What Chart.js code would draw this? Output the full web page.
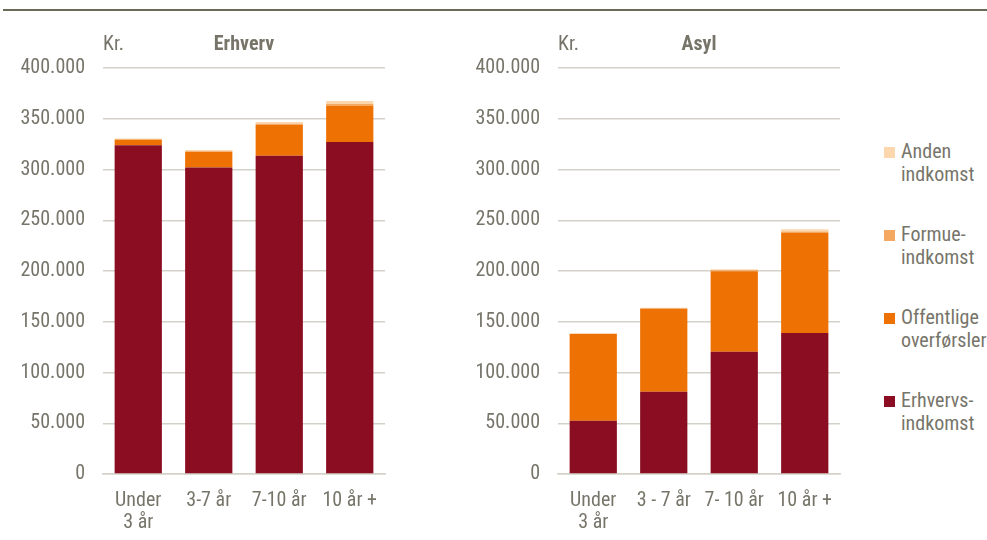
<!DOCTYPE html>
<html>
<head>
<meta charset="utf-8">
<script src="https://cdn.jsdelivr.net/npm/chart.js@4.4.1/dist/chart.umd.min.js"></script>
<style>
  body { margin: 0; background: #fff; width: 987px; height: 540px; overflow: hidden; position: relative;
         font-family: "Liberation Sans Narrow", "Arial Narrow", "Roboto Condensed", sans-serif; }
  .topline { position: absolute; left: 3px; right: 0; top: 9px; height: 2px; background: #6b6a58; }
  .panel { position: absolute; top: 0; width: 400px; height: 540px; }
  #legend { position: absolute; left: 884px; top: 140px; color: #77756a; font-size: 20px; line-height: 23px; }
  #legend .item { position: relative; padding-left: 17px; height: 83px; white-space: nowrap; }
  #legend .box { position: absolute; left: 0; top: 7px; width: 11px; height: 11px; }
</style>
</head>
<body>
<div class="topline"></div>
<div class="panel" style="left:0"><canvas id="c1" width="400" height="540"></canvas></div>
<div class="panel" style="left:455px"><canvas id="c2" width="400" height="540"></canvas></div>
<div id="legend"></div>
<script>
const erhvervLabels = [["Under", "3 år"], "3-7 år", "7-10 år", "10 år +"]
const asylLabels = [["Under", "3 år"], "3 - 7 år", "7- 10 år", "10 år +"]

const seriesNames = ["Erhvervs-indkomst", "Offentlige overførsler", "Formue-indkomst", "Anden indkomst"]
const legendLines = [["Erhvervs-", "indkomst"], ["Offentlige", "overførsler"], ["Formue-", "indkomst"], ["Anden", "indkomst"]]
const seriesColors = ["#8a0d22", "#ee7203", "#f5a862", "#fcd7ad"]

// Erhverv
const erhvervErhverv = [324000, 302000, 313500, 327000]
const erhvervOffentlige = [5300, 15400, 30600, 35500]
const erhvervFormue = [500, 700, 1000, 2000]
const erhvervAnden = [800, 1000, 1600, 3000]

// Asyl
const asylErhverv = [52500, 81000, 120500, 139000]
const asylOffentlige = [85500, 81800, 79200, 98500]
const asylFormue = [300, 500, 1000, 1500]
const asylAnden = [300, 400, 1000, 2200]

const yTicks = [0, 50000, 100000, 150000, 200000, 250000, 300000, 350000, 400000]

const textColor = "#77756a"
const gridColor = "#d3d1c8"
const fontFamily = '"Liberation Sans Narrow", "Arial Narrow", "Roboto Condensed", sans-serif'

function fmt(v) {
  return String(v).replace(/\B(?=(\d{3})+(?!\d))/g, ".")
}

const headerPlugin = {
  id: "header",
  afterDraw(chart, args, opts) {
    const { ctx, chartArea } = chart
    ctx.save()
    ctx.fillStyle = textColor
    ctx.textBaseline = "middle"
    ctx.font = "20px " + fontFamily
    ctx.textAlign = "left"
    ctx.fillText("Kr.", chartArea.left, 45)
    ctx.font = "bold 20px " + fontFamily
    ctx.textAlign = "center"
    ctx.fillText(opts.title, (chartArea.left + chartArea.right) / 2, 45)
    ctx.restore()
  }
}

function makeChart(id, title, labels, values) {
  const ctx = document.getElementById(id).getContext("2d")
  return new Chart(ctx, {
    type: "bar",
    data: {
      labels: labels,
      datasets: values.map((data, i) => ({
        label: seriesNames[i],
        data: data,
        backgroundColor: seriesColors[i],
        borderWidth: 0,
        barPercentage: 0.67,
        categoryPercentage: 1
      }))
    },
    options: {
      responsive: false,
      animation: false,
      layout: { padding: { top: 68, right: 15, left: 0, bottom: 0 } },
      plugins: {
        legend: { display: false },
        tooltip: { enabled: false },
        header: { title: title }
      },
      scales: {
        x: {
          stacked: true,
          grid: { display: false, drawTicks: false },
          border: { color: gridColor, width: 1.5 },
          ticks: { color: textColor, font: { family: fontFamily, size: 20, lineHeight: 1.1 }, padding: 16, maxRotation: 0, autoSkip: false },
          afterFit(scale) { scale.height = 66 }
        },
        y: {
          stacked: true,
          min: 0,
          max: 400000,
          afterBuildTicks(scale) { scale.ticks = yTicks.map(v => ({ value: v })) },
          grid: { color: gridColor, lineWidth: 1.5, drawTicks: false },
          border: { display: false },
          ticks: { color: textColor, font: { family: fontFamily, size: 20 }, padding: 18, callback: v => fmt(v) },
          afterFit(scale) { scale.width = 103 }
        }
      }
    },
    plugins: [headerPlugin]
  })
}

makeChart("c1", "Erhverv", erhvervLabels, [erhvervErhverv, erhvervOffentlige, erhvervFormue, erhvervAnden])
makeChart("c2", "Asyl", asylLabels, [asylErhverv, asylOffentlige, asylFormue, asylAnden])

// legend, top item = last dataset
const legend = document.getElementById("legend")
for (let i = seriesNames.length - 1; i >= 0; i--) {
  const item = document.createElement("div")
  item.className = "item"
  item.innerHTML = '<span class="box" style="background:' + seriesColors[i] + '"></span>' + legendLines[i].join("<br>")
  legend.appendChild(item)
}
</script>
</body>
</html>
